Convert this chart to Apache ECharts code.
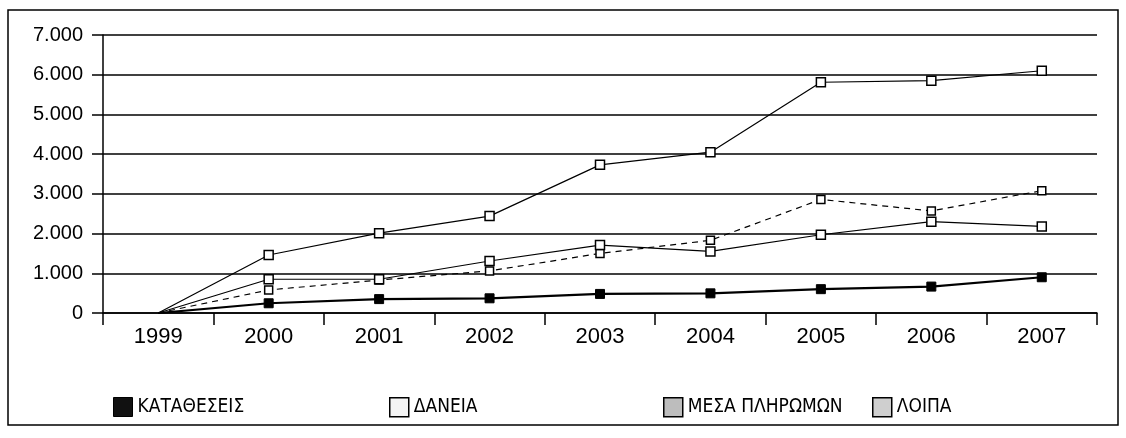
<!DOCTYPE html>
<html>
<head>
<meta charset="utf-8">
<script src="https://cdn.jsdelivr.net/npm/echarts@6/dist/echarts.min.js"></script>
<style>
  html, body { margin: 0; padding: 0; background: #fff; }
  #chart { width: 1126px; height: 438px; }
</style>
</head>
<body>
<div id="chart"></div>
<script>
// data
const years = ["1999", "2000", "2001", "2002", "2003", "2004", "2005", "2006", "2007"];
const katatheseis = [0, 245, 350, 370, 480, 495, 600, 665, 900];
const daneia = [0, 1460, 2010, 2440, 3730, 4050, 5810, 5850, 6100];
const mesaPliromon = [0, 580, 830, 1060, 1500, 1830, 2860, 2570, 3080];
const loipa = [0, 850, 850, 1310, 1710, 1550, 1970, 2300, 2180];
const yTicks = [0, 1000, 2000, 3000, 4000, 5000, 6000, 7000];

const font = "Liberation Sans, Arial, sans-serif";
const narrow = "Liberation Sans Narrow, DejaVu Sans Condensed, sans-serif";

// first point (1999) carries no marker
function points(arr) {
  return arr.map((v, i) => (i === 0 ? { value: v, symbol: "none" } : v));
}

function lineSeries(name, arr, opts) {
  return Object.assign({
    name: name,
    type: "line",
    data: points(arr),
    symbol: "rect",
    symbolSize: 9,
    itemStyle: { color: "#fff", borderColor: "#000", borderWidth: 1.5 },
    lineStyle: { color: "#000", width: 1.2 },
    z: 3
  }, opts);
}

// one legend block per item, placed like the original
function legendAt(left, name, fill, border) {
  return {
    left: left,
    top: 392,
    itemWidth: 19,
    itemHeight: 19,
    textStyle: { fontFamily: narrow, fontSize: 19, color: "#000", padding: [2, 0, 0, 0] },
    data: [{ name: name, icon: "rect", itemStyle: { color: fill, borderColor: "#000", borderWidth: border } }]
  };
}

const chart = echarts.init(document.getElementById("chart"));
chart.setOption({
  animation: false,
  backgroundColor: "#fff",
  textStyle: { fontFamily: font },
  grid: { left: 103, right: 29, top: 35, bottom: 125 },
  graphic: [{
    type: "rect",
    shape: { x: 8, y: 10, width: 1110, height: 415 },
    style: { fill: "none", stroke: "#000", lineWidth: 1.5 },
    z: 0
  }],
  legend: [
    legendAt(108, "ΚΑΤΑΘΕΣΕΙΣ", "#111", 1),
    legendAt(384, "ΔΑΝΕΙΑ", "#f4f4f4", 1.5),
    legendAt(658, "ΜΕΣΑ ΠΛΗΡΩΜΩΝ", "#bdbdbd", 1.5),
    legendAt(867, "ΛΟΙΠΑ", "#cfcfcf", 1.5)
  ],
  xAxis: {
    type: "category",
    data: years,
    boundaryGap: true,
    axisLine: { lineStyle: { color: "#000", width: 1.5 } },
    axisTick: { show: true, length: 12, lineStyle: { color: "#000", width: 1.5 } },
    axisLabel: { color: "#000", fontSize: 22, margin: 13, fontFamily: font },
    splitLine: { show: false }
  },
  yAxis: {
    type: "value",
    min: yTicks[0],
    max: yTicks[yTicks.length - 1],
    interval: 1000,
    axisLine: { show: true, lineStyle: { color: "#000", width: 1.5 } },
    axisTick: { show: true, length: 11, lineStyle: { color: "#000", width: 1.5 } },
    axisLabel: {
      color: "#000", fontSize: 20, margin: 20, fontFamily: font,
      formatter: v => v === 0 ? "0" : (v / 1000) + ".000"
    },
    splitLine: { show: true, lineStyle: { color: "#000", width: 1.5 } }
  },
  series: [
    lineSeries("ΚΑΤΑΘΕΣΕΙΣ", katatheseis, {
      itemStyle: { color: "#000", borderColor: "#000", borderWidth: 1 },
      lineStyle: { color: "#000", width: 2.2 }
    }),
    lineSeries("ΔΑΝΕΙΑ", daneia, {}),
    lineSeries("ΜΕΣΑ ΠΛΗΡΩΜΩΝ", mesaPliromon, {
      symbolSize: 8,
      lineStyle: { color: "#000", width: 1.2, type: [6, 5] }
    }),
    lineSeries("ΛΟΙΠΑ", loipa, {})
  ]
});
</script>
</body>
</html>
